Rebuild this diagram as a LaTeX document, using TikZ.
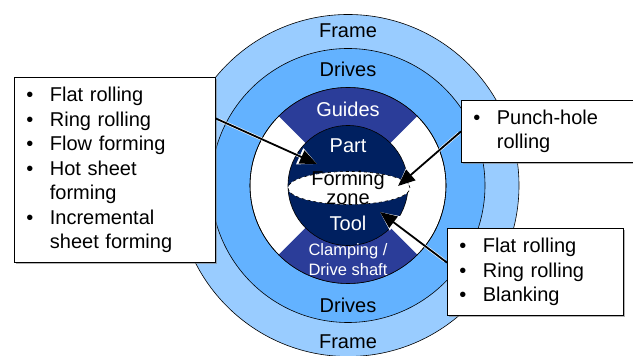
\documentclass[tikz,border=0pt]{standalone}
\usepackage{fontspec}
\setmainfont{Liberation Sans}
\usetikzlibrary{arrows.meta,shadows}
\definecolor{framecol}{RGB}{153,204,255}
\definecolor{drivecol}{RGB}{99,178,255}
\definecolor{guidecol}{RGB}{43,61,153}
\definecolor{partcol}{RGB}{0,32,96}
\newcommand\blt{\makebox[23.5pt][l]{\textbullet}}
\newcommand\nob{\hspace*{23.5pt}}
\begin{document}
\begin{tikzpicture}[x=1pt,y=1pt]
  \tikzset{disc/.style={draw,circle,line width=0.6pt,inner sep=0pt,fill=#1},
    lbl/.style={anchor=base,font=\fontsize{20}{20}\selectfont},
    wlbl/.style={lbl,text=white},
    listbox/.style={draw,fill=white,line width=0.8pt,anchor=north west,align=left,
      inner xsep=12pt,inner ysep=0pt,font=\fontsize{20}{24.5}\selectfont,
      drop shadow={shadow xshift=1.3pt,shadow yshift=-1.3pt,opacity=0.6}},
    pointer/.style={line width=1.8pt,-{Stealth[inset=0pt,length=17pt,width=14pt]},
      preaction={draw=white,line width=3pt,shorten <=3pt,-{Stealth[inset=0pt,length=19pt,width=17pt]}}}}
  \useasboundingbox (0,0) rectangle (633,356);
  \clip (0,0) rectangle (633,356);
  \coordinate (C) at (348,170.5);
  % rings
  \node[disc=framecol,minimum size=342pt] (frame) at (C) {};
  \node[disc=drivecol,minimum size=274pt] (drives) at (C) {};
  \node[disc=white,minimum size=196pt] (inner) at (C) {};
  \fill[guidecol] (C) -- ++(45:98) arc (45:135:98) -- cycle;
  \fill[guidecol] (C) -- ++(225:98) arc (225:315:98) -- cycle;
  \draw[line width=0.6pt] (C) circle (98);
  \node[disc=partcol,minimum size=120pt] (part) at (C) {};
  \draw[dashed,line width=0.6pt,fill=white] (349,168) ellipse [x radius=61,y radius=16.5];
  % labels
  \node[lbl] (frametop) at (348,318.5) {Frame};
  \node[lbl] (drivestop) at (348,279) {Drives};
  \node[wlbl] (guides) at (348,239.5) {Guides};
  \node[wlbl] (partlbl) at (348,203) {Part};
  \node[lbl] (forming) at (348,170) {Forming};
  \node[lbl] (zonelbl) at (348,151.5) {zone};
  \node[wlbl] (tool) at (348,125) {Tool};
  \node[wlbl,font=\fontsize{16.5}{16.5}\selectfont] (clamp) at (348,100) {Clamping /};
  \node[wlbl,font=\fontsize{16.5}{16.5}\selectfont] (shaft) at (348,80.7) {Drive shaft};
  \node[lbl] (drivesbot) at (348,43) {Drives};
  \node[lbl] (framebot) at (348,7) {Frame};
  % process lists
  \node[listbox,text width=177pt,minimum height=185pt] (lbox) at (14,279)
    {\blt Flat rolling\\ \blt Ring rolling\\ \blt Flow forming\\ \blt Hot sheet\\
     \nob forming\\ \blt Incremental\\ \nob sheet forming};
  \node[listbox,text width=158pt,minimum height=62pt] (rbox) at (461,256)
    {\blt Punch-hole\\ \nob rolling};
  \node[listbox,text width=152pt,minimum height=87pt] (bbox) at (447,128)
    {\blt Flat rolling\\ \blt Ring rolling\\ \blt Blanking};
  % pointers
  \coordinate (tipA) at (317,192);
  \coordinate (tipB) at (398,170);
  \coordinate (tipC) at (380,144);
  \draw[pointer] (lbox.27.6) -- (tipA);
  \draw[pointer] (rbox.west) -- (tipB);
  \draw[pointer] (bbox.174) -- (tipC);
\end{tikzpicture}
\end{document}
